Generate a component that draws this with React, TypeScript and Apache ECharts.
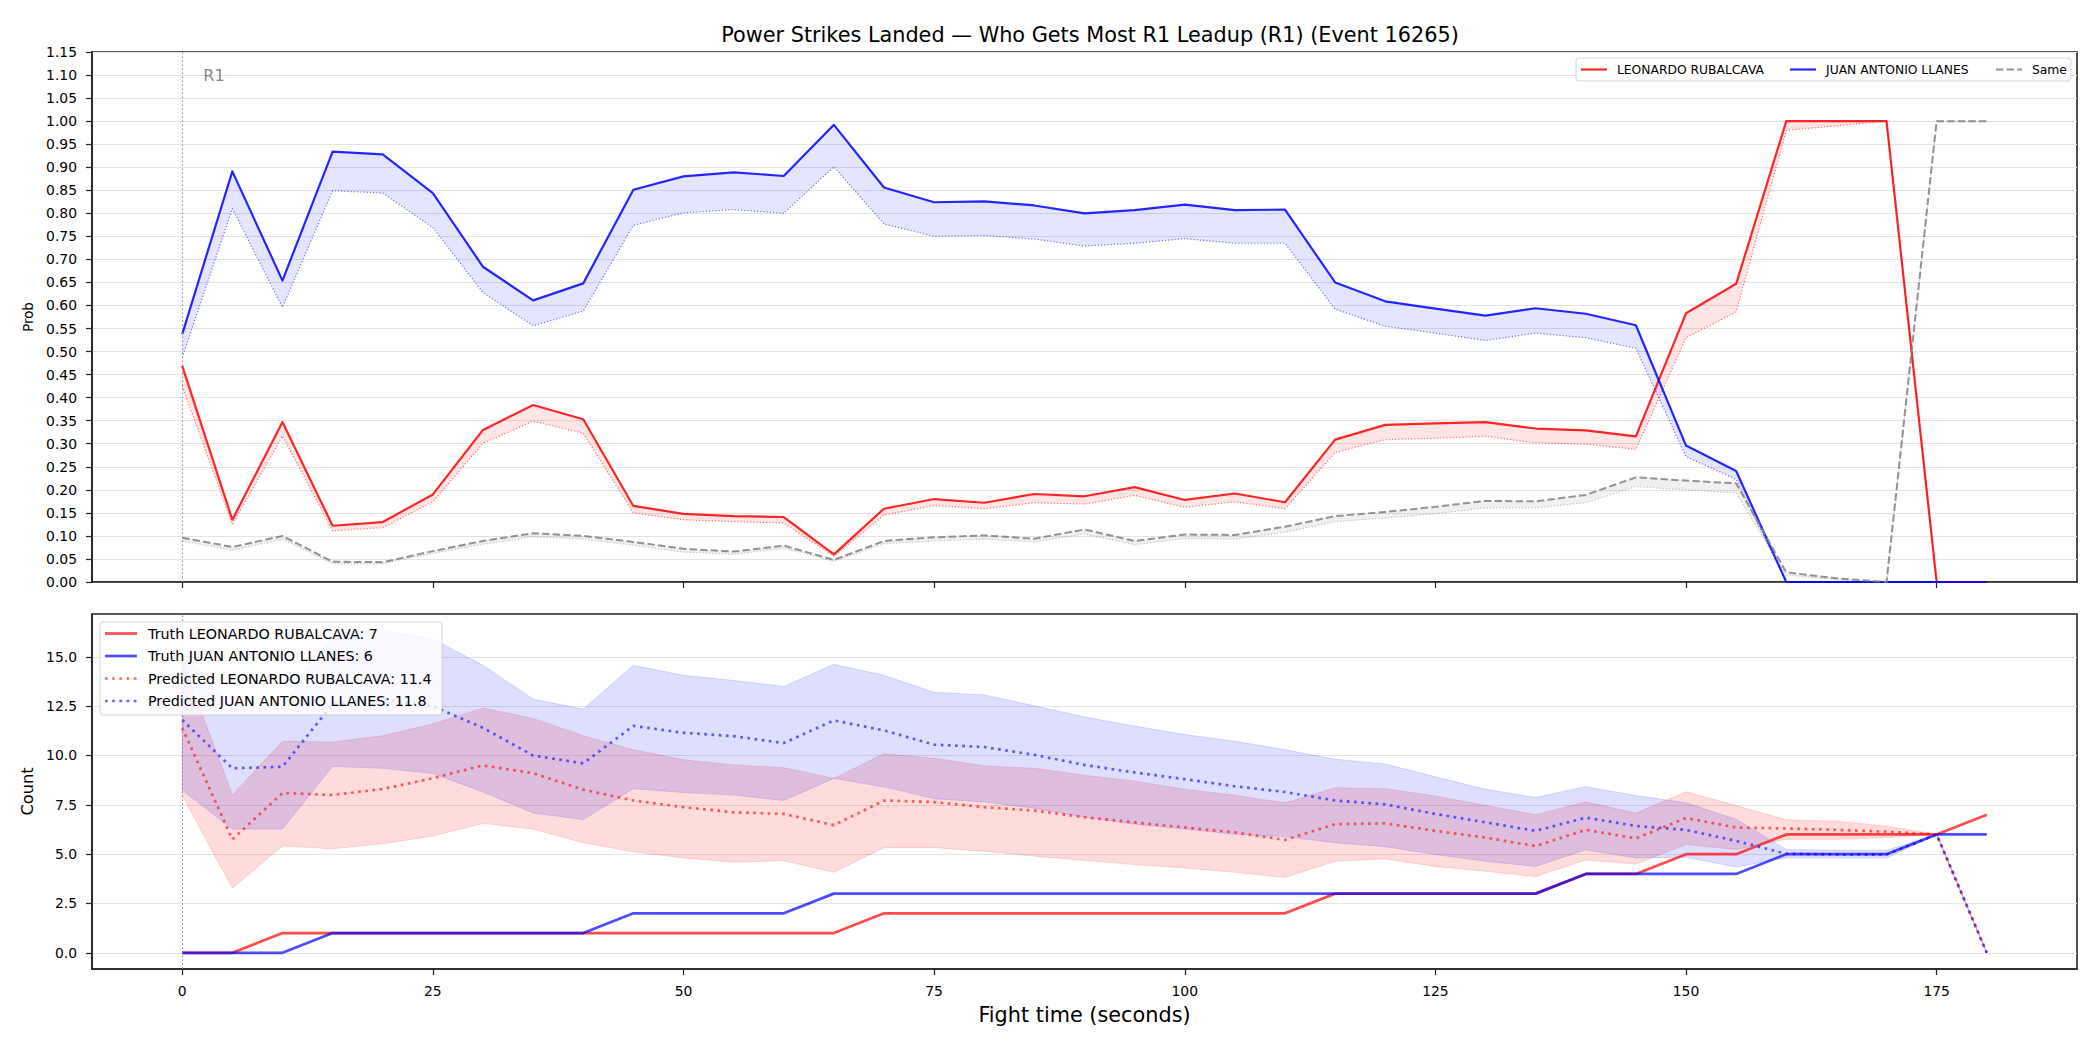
import React, { useEffect, useRef } from "react";
import * as echarts from "echarts";

// Fight clock, one sample every 5 seconds
const timeSec = [0, 5, 10, 15, 20, 25, 30, 35, 40, 45, 50, 55, 60, 65, 70, 75, 80, 85, 90, 95, 100, 105, 110, 115, 120, 125, 130, 135, 140, 145, 150, 155, 160, 165, 170, 175, 180];

// Leadup probabilities (solid = live estimate, alt = dotted companion estimate)
const probRed = [0.469, 0.135, 0.347, 0.122, 0.130, 0.190, 0.330, 0.384, 0.353, 0.165, 0.148, 0.143, 0.141, 0.060, 0.159, 0.180, 0.172, 0.191, 0.186, 0.206, 0.178, 0.192, 0.173, 0.309, 0.341, 0.344, 0.347, 0.333, 0.329, 0.316, 0.583, 0.647, 1.0, 1.0, 1.0, 0.0, 0.0];
const probRedAlt = [0.425, 0.125, 0.317, 0.111, 0.118, 0.174, 0.301, 0.349, 0.323, 0.150, 0.135, 0.131, 0.128, 0.056, 0.145, 0.166, 0.159, 0.172, 0.169, 0.188, 0.162, 0.174, 0.159, 0.281, 0.309, 0.312, 0.316, 0.302, 0.299, 0.288, 0.530, 0.586, 0.980, 0.990, 1.0, 0.0, 0.0];
const probBlue = [0.538, 0.891, 0.654, 0.934, 0.928, 0.844, 0.684, 0.611, 0.648, 0.851, 0.880, 0.889, 0.881, 0.992, 0.856, 0.824, 0.826, 0.817, 0.800, 0.807, 0.819, 0.807, 0.808, 0.650, 0.609, 0.593, 0.578, 0.594, 0.582, 0.557, 0.296, 0.241, 0, 0, 0, 0, 0];
const probBlueAlt = [0.487, 0.810, 0.596, 0.849, 0.844, 0.769, 0.628, 0.556, 0.588, 0.774, 0.801, 0.808, 0.800, 0.901, 0.777, 0.750, 0.752, 0.744, 0.729, 0.735, 0.745, 0.735, 0.735, 0.592, 0.555, 0.540, 0.524, 0.540, 0.530, 0.507, 0.272, 0.223, 0, 0, 0, 0, 0];
const probSame = [0.096, 0.076, 0.100, 0.044, 0.043, 0.067, 0.089, 0.106, 0.100, 0.087, 0.072, 0.066, 0.079, 0.048, 0.089, 0.097, 0.101, 0.094, 0.114, 0.089, 0.103, 0.102, 0.120, 0.143, 0.152, 0.163, 0.176, 0.175, 0.189, 0.227, 0.220, 0.214, 0.021, 0.008, 0.0, 1.0, 1.0];
const probSameAlt = [0.089, 0.069, 0.093, 0.040, 0.040, 0.062, 0.082, 0.098, 0.093, 0.080, 0.065, 0.060, 0.073, 0.045, 0.083, 0.089, 0.093, 0.087, 0.104, 0.081, 0.094, 0.093, 0.108, 0.131, 0.139, 0.148, 0.161, 0.161, 0.172, 0.207, 0.200, 0.193, 0.015, 0.005, 0.0, 1.0, 1.0];

// Cumulative power strikes: truth and model prediction with its band
const truthRed = [0, 0, 1, 1, 1, 1, 1, 1, 1, 1, 1, 1, 1, 1, 2, 2, 2, 2, 2, 2, 2, 2, 2, 3, 3, 3, 3, 3, 4, 4, 5, 5, 6, 6, 6, 6, 7];
const truthBlue = [0, 0, 0, 1, 1, 1, 1, 1, 1, 2, 2, 2, 2, 3, 3, 3, 3, 3, 3, 3, 3, 3, 3, 3, 3, 3, 3, 3, 4, 4, 4, 4, 5, 5, 5, 6, 6];
const predRed = [11.4, 5.75, 8.1, 8.0, 8.3, 8.85, 9.5, 9.1, 8.27, 7.72, 7.38, 7.12, 7.04, 6.47, 7.72, 7.64, 7.38, 7.21, 6.87, 6.61, 6.35, 6.1, 5.72, 6.52, 6.56, 6.18, 5.84, 5.41, 6.23, 5.8, 6.83, 6.35, 6.3, 6.23, 6.14, 6.0, 0];
const predBlue = [11.8, 9.35, 9.43, 12.6, 12.85, 12.5, 11.4, 10.0, 9.6, 11.5, 11.15, 10.98, 10.63, 11.78, 11.27, 10.55, 10.43, 10.03, 9.52, 9.14, 8.8, 8.44, 8.15, 7.72, 7.52, 7.04, 6.61, 6.18, 6.85, 6.43, 6.23, 5.67, 5.02, 4.98, 4.98, 6.0, 0];
const redBandLo = [7.98, 3.27, 5.41, 5.27, 5.53, 5.92, 6.56, 6.27, 5.58, 5.12, 4.81, 4.59, 4.67, 4.08, 5.33, 5.33, 5.15, 4.9, 4.69, 4.47, 4.3, 4.08, 3.82, 4.64, 4.76, 4.38, 4.13, 3.87, 4.7, 4.5, 5.49, 5.24, 5.75, 5.75, 5.84, 6.0, 0];
const redBandHi = [14.8, 8.0, 10.72, 10.68, 11.0, 11.6, 12.4, 11.88, 11.0, 10.29, 9.78, 9.52, 9.38, 8.84, 10.09, 9.86, 9.47, 9.35, 9.0, 8.7, 8.29, 7.98, 7.6, 8.36, 8.32, 7.95, 7.47, 7.0, 7.65, 7.08, 8.16, 7.46, 6.74, 6.67, 6.43, 6.0, 0];
const blueBandLo = [8.24, 6.27, 6.27, 9.45, 9.35, 9.09, 8.15, 7.09, 6.75, 8.32, 8.12, 8.0, 7.72, 8.84, 8.41, 7.81, 7.64, 7.33, 6.87, 6.52, 6.27, 6.01, 5.89, 5.58, 5.38, 4.98, 4.64, 4.38, 5.22, 4.81, 4.84, 4.35, 4.81, 4.8, 4.8, 6.0, 0];
const blueBandHi = [15.3, 12.4, 12.45, 16.1, 16.35, 15.9, 14.57, 12.86, 12.35, 14.57, 14.06, 13.8, 13.5, 14.62, 14.06, 13.2, 13.07, 12.52, 11.95, 11.49, 11.06, 10.72, 10.29, 9.81, 9.57, 8.92, 8.29, 7.87, 8.42, 7.97, 7.6, 6.77, 5.24, 5.2, 5.2, 6.0, 0];

// Axis ticks and round marker
const timeTicks = [0, 25, 50, 75, 100, 125, 150, 175];
const countTicks = [0, 2.5, 5, 7.5, 10, 12.5, 15];
const roundStart = 0;
const roundLabel = "R1";
const roundLabelAt = [2.1, 1.1];

const redName = "LEONARDO RUBALCAVA";
const blueName = "JUAN ANTONIO LLANES";
const finalTruthRed = truthRed[truthRed.length - 1];
const finalTruthBlue = truthBlue[truthBlue.length - 1];
const startPredRed = predRed[0];
const startPredBlue = predBlue[0];

const FONT = "DejaVu Sans";
const AXIS_COLOR = "#222";
const GRID_COLOR = "#e3e3e3";
const LEGEND_Z = 100;

const pairs = (vals: number[]) => timeSec.map((t, i) => [t, vals[i]]);

function lineSeries(gi: number, vals: number[], color: string, width: number, dash?: number[]) {
  return {
    type: "line",
    xAxisIndex: gi,
    yAxisIndex: gi,
    data: pairs(vals),
    showSymbol: false,
    symbol: "none",
    silent: true,
    lineStyle: { color, width, type: dash ?? "solid", cap: "butt", join: "round" },
  } as any;
}

function bandSeries(gi: number, hi: number[], lo: number[], fill: string, stroke: string) {
  return {
    type: "custom",
    xAxisIndex: gi,
    yAxisIndex: gi,
    data: [[0, 0]],
    silent: true,
    renderItem: (_params: any, api: any) => {
      const top = timeSec.map((t, i) => api.coord([t, hi[i]]));
      const bot = timeSec.map((t, i) => api.coord([t, lo[i]])).reverse();
      return {
        type: "polygon",
        shape: { points: top.concat(bot) },
        style: { fill, stroke, lineWidth: stroke === "none" ? 0 : 1 },
      };
    },
  } as any;
}

function roundMarker() {
  return {
    silent: true,
    symbol: ["none", "none"],
    label: { show: false },
    lineStyle: { color: "#888", width: 1, type: [1.5, 2.5] },
    data: [{ xAxis: roundStart }],
  };
}

// legend pieces, each carrying its own z so they sit above the series
const legendLine = (x1: number, x2: number, y: number, stroke: string, lineWidth: number, lineDash?: number[]) => ({
  type: "line",
  z: LEGEND_Z + 1,
  shape: { x1, y1: y, x2, y2: y },
  style: { stroke, lineWidth, lineDash: lineDash ?? null },
});
const legendText = (x: number, y: number, text: string, fontSize: number) => ({
  type: "text",
  z: LEGEND_Z + 1,
  x,
  y,
  style: { text, fontSize, fontFamily: FONT, fill: "#000", verticalAlign: "middle" },
});
const legendBox = (x: number, y: number, width: number, height: number) => ({
  type: "rect",
  z: LEGEND_Z,
  shape: { x, y, width, height, r: 3 },
  style: { fill: "rgba(255,255,255,0.8)", stroke: "rgba(204,204,204,0.8)", lineWidth: 1 },
});

export default function App() {
  const ref = useRef<HTMLDivElement>(null);

  useEffect(() => {
    if (!ref.current) return;
    const chart = echarts.init(ref.current, null, { renderer: "svg" });

    const xAxisBase = (gi: number, showLabels: boolean) => ({
      type: "value",
      gridIndex: gi,
      min: -9,
      max: 189,
      axisLine: { show: true, onZero: false, lineStyle: { color: AXIS_COLOR, width: 1.6 } },
      axisTick: { show: true, length: 6, lineStyle: { color: AXIS_COLOR, width: 1.2 }, customValues: timeTicks },
      axisLabel: { show: showLabels, customValues: timeTicks, color: "#000", fontSize: 13.9, fontFamily: FONT, margin: 15 },
      splitLine: { show: false },
    });

    const redLine = lineSeries(1, truthRed, "rgba(255,0,0,0.7)", 2.7);
    redLine.markLine = roundMarker();
    const topRed = lineSeries(0, probRed, "rgba(255,0,0,0.85)", 2.2);
    topRed.markLine = roundMarker();

    const option: any = {
      animation: false,
      backgroundColor: "#fff",
      textStyle: { fontFamily: FONT },
      title: {
        text: "Power Strikes Landed \u2014 Who Gets Most R1 Leadup (R1) (Event 16265)",
        left: 1085,
        top: 19,
        textAlign: "center",
        textStyle: { fontFamily: FONT, fontSize: 20.8, fontWeight: "normal", color: "#000" },
      },
      grid: [
        { left: 92, right: 23, top: 52, height: 530, show: true, borderColor: AXIS_COLOR, borderWidth: 1.6, backgroundColor: "transparent" },
        { left: 92, right: 23, top: 614, height: 355, show: true, borderColor: AXIS_COLOR, borderWidth: 1.6, backgroundColor: "transparent" },
      ],
      xAxis: [
        xAxisBase(0, false),
        {
          ...xAxisBase(1, true),
          name: "Fight time (seconds)",
          nameLocation: "middle",
          nameGap: 35,
          nameTextStyle: { fontFamily: FONT, fontSize: 20.8, color: "#000" },
        },
      ],
      yAxis: [
        {
          type: "value",
          gridIndex: 0,
          min: 0,
          max: 1.15,
          interval: 0.05,
          name: "Prob",
          nameLocation: "middle",
          nameGap: 54,
          nameTextStyle: { fontFamily: FONT, fontSize: 13.3, color: "#000" },
          axisLine: { show: true, onZero: false, lineStyle: { color: AXIS_COLOR, width: 1.6 } },
          axisTick: { show: true, length: 6, lineStyle: { color: AXIS_COLOR, width: 1.2 } },
          axisLabel: { color: "#000", fontSize: 13.9, fontFamily: FONT, margin: 15, formatter: (v: number) => v.toFixed(2) },
          splitLine: { show: true, lineStyle: { color: GRID_COLOR, width: 1 } },
        },
        {
          type: "value",
          gridIndex: 1,
          min: -0.82,
          max: 17.17,
          name: "Count",
          nameLocation: "middle",
          nameGap: 54,
          nameTextStyle: { fontFamily: FONT, fontSize: 16.2, color: "#000" },
          axisLine: { show: true, onZero: false, lineStyle: { color: AXIS_COLOR, width: 1.6 } },
          axisTick: { show: true, length: 6, lineStyle: { color: AXIS_COLOR, width: 1.2 }, customValues: countTicks },
          axisLabel: { color: "#000", fontSize: 13.9, fontFamily: FONT, margin: 15, customValues: countTicks, formatter: (v: number) => v.toFixed(1) },
          splitLine: { show: true, lineStyle: { color: GRID_COLOR, width: 1 } },
        },
      ],
      series: [
        // probability panel
        bandSeries(0, probRed, probRedAlt, "rgba(255,0,0,0.1)", "none"),
        topRed,
        lineSeries(0, probRedAlt, "rgba(255,0,0,0.55)", 1.2, [1.2, 2]),
        bandSeries(0, probBlue, probBlueAlt, "rgba(0,0,255,0.1)", "none"),
        lineSeries(0, probBlue, "rgba(0,0,255,0.85)", 2.2),
        lineSeries(0, probBlueAlt, "rgba(0,0,255,0.55)", 1.2, [1.2, 2]),
        bandSeries(0, probSame, probSameAlt, "rgba(128,128,128,0.12)", "none"),
        lineSeries(0, probSame, "rgba(128,128,128,0.85)", 2, [7.4, 3.2]),
        lineSeries(0, probSameAlt, "rgba(128,128,128,0.45)", 1.2, [1.2, 2]),
        {
          type: "scatter",
          xAxisIndex: 0,
          yAxisIndex: 0,
          data: [roundLabelAt],
          symbolSize: 0,
          silent: true,
          label: {
            show: true,
            position: "inside",
            align: "left",
            verticalAlign: "middle",
            formatter: roundLabel,
            color: "#666",
            fontSize: 16,
            fontFamily: FONT,
          },
        },
        // count panel
        bandSeries(1, redBandHi, redBandLo, "rgba(255,0,0,0.14)", "rgba(255,0,0,0.14)"),
        bandSeries(1, blueBandHi, blueBandLo, "rgba(0,0,255,0.13)", "rgba(0,0,255,0.13)"),
        redLine,
        lineSeries(1, truthBlue, "rgba(0,0,255,0.7)", 2.7),
        lineSeries(1, predRed, "rgba(255,0,0,0.6)", 2.7, [2.7, 4.5]),
        lineSeries(1, predBlue, "rgba(0,0,255,0.6)", 2.7, [2.7, 4.5]),
      ],
      graphic: [
        // probability panel legend
        legendBox(1576, 58, 495, 23),
        legendLine(1581, 1607, 69.5, "rgba(255,0,0,0.85)", 2.2),
        legendText(1617, 69.5, redName, 12.3),
        legendLine(1790, 1816, 69.5, "rgba(0,0,255,0.85)", 2.2),
        legendText(1826, 69.5, blueName, 12.3),
        legendLine(1996, 2022, 69.5, "rgba(128,128,128,0.85)", 2, [7.4, 3.2]),
        legendText(2032, 69.5, "Same", 12.3),
        // count panel legend
        legendBox(100, 622, 342, 93),
        legendLine(105, 137, 633.5, "rgba(255,0,0,0.7)", 2.7),
        legendText(148, 633.5, `Truth ${redName}: ${finalTruthRed}`, 14.3),
        legendLine(105, 137, 656, "rgba(0,0,255,0.7)", 2.7),
        legendText(148, 656, `Truth ${blueName}: ${finalTruthBlue}`, 14.3),
        legendLine(105, 137, 678.5, "rgba(255,0,0,0.6)", 2.7, [2.7, 4.5]),
        legendText(148, 678.5, `Predicted ${redName}: ${startPredRed.toFixed(1)}`, 14.3),
        legendLine(105, 137, 701, "rgba(0,0,255,0.6)", 2.7, [2.7, 4.5]),
        legendText(148, 701, `Predicted ${blueName}: ${startPredBlue.toFixed(1)}`, 14.3),
      ],
    };

    chart.setOption(option);
    return () => chart.dispose();
  }, []);

  return (
    <div
      ref={ref}
      style={{ position: "fixed", left: 0, top: 0, width: 2100, height: 1050, background: "#fff" }}
    />
  );
}
